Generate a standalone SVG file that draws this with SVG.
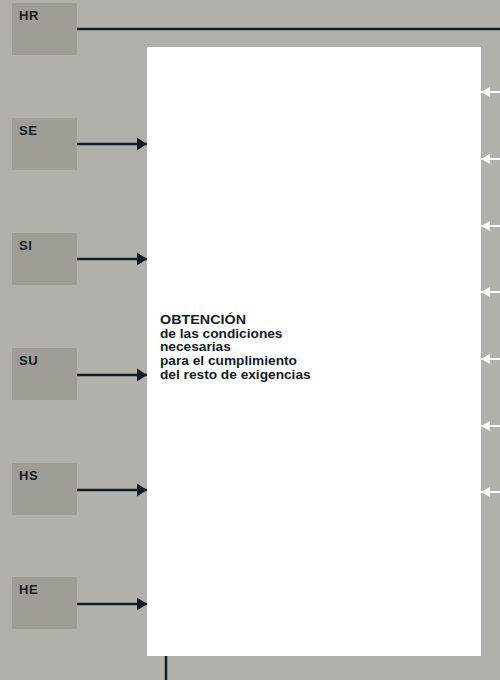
<svg xmlns="http://www.w3.org/2000/svg" width="500" height="680" viewBox="0 0 500 680">
<defs>
<style>
.box{fill:#9f9d95}
.lbl{font-family:"Liberation Sans",Arial,sans-serif;font-weight:bold;font-size:13px;fill:#0f1d29;letter-spacing:0.5px}
.main{font-family:"Liberation Sans",Arial,sans-serif;font-weight:bold;font-size:13.7px;fill:#0f1d29}
.dk{stroke:#0f1d29;stroke-width:2.5;fill:none}
.wt{stroke:#ffffff;stroke-width:2;fill:none}
</style>
<marker id="ad" markerUnits="userSpaceOnUse" markerWidth="10" markerHeight="14" refX="10" refY="7" orient="auto"><path d="M0,0.5 L10,7 L0,13.5 Z" fill="#0f1d29"/></marker>
<marker id="aw" markerUnits="userSpaceOnUse" markerWidth="9" markerHeight="11" refX="9" refY="5.5" orient="auto"><path d="M0,0.5 L9,5.5 L0,10.5 Z" fill="#ffffff"/></marker>
</defs>
<rect x="0" y="0" width="500" height="680" fill="#b1b0ab"/>
<g id="main">
<rect x="147" y="47" width="334" height="609" fill="#ffffff"/>
<text class="main" x="160"><tspan x="160" y="324" textLength="86" lengthAdjust="spacingAndGlyphs">OBTENCIÓN</tspan><tspan x="160" y="337.7">de las condiciones</tspan><tspan x="160" y="351.4">necesarias</tspan><tspan x="160" y="365.1">para el cumplimiento</tspan><tspan x="160" y="378.8">del resto de exigencias</tspan></text>
</g>
<g id="HR"><rect class="box" x="12" y="3" width="65" height="52"/><text class="lbl" x="19" y="20">HR</text></g>
<g id="SE"><rect class="box" x="12" y="118" width="65" height="52"/><text class="lbl" x="19" y="135">SE</text></g>
<g id="SI"><rect class="box" x="12" y="233" width="65" height="52"/><text class="lbl" x="19" y="250">SI</text></g>
<g id="SU"><rect class="box" x="12" y="348" width="65" height="52"/><text class="lbl" x="19" y="365">SU</text></g>
<g id="HS"><rect class="box" x="12" y="463" width="65" height="52"/><text class="lbl" x="19" y="480">HS</text></g>
<g id="HE"><rect class="box" x="12" y="577" width="65" height="52"/><text class="lbl" x="19" y="594">HE</text></g>
<g id="connectors">
<line class="dk" x1="77" y1="29" x2="500" y2="29"/>
<line class="dk" x1="77" y1="144" x2="147" y2="144" marker-end="url(#ad)"/>
<line class="dk" x1="77" y1="259" x2="147" y2="259" marker-end="url(#ad)"/>
<line class="dk" x1="77" y1="375" x2="147" y2="375" marker-end="url(#ad)"/>
<line class="dk" x1="77" y1="490" x2="147" y2="490" marker-end="url(#ad)"/>
<line class="dk" x1="77" y1="604" x2="147" y2="604" marker-end="url(#ad)"/>
<line class="dk" x1="166" y1="656" x2="166" y2="680"/>
<line class="wt" x1="500" y1="92" x2="481" y2="92" marker-end="url(#aw)"/>
<line class="wt" x1="500" y1="159" x2="481" y2="159" marker-end="url(#aw)"/>
<line class="wt" x1="500" y1="226" x2="481" y2="226" marker-end="url(#aw)"/>
<line class="wt" x1="500" y1="292" x2="481" y2="292" marker-end="url(#aw)"/>
<line class="wt" x1="500" y1="359" x2="481" y2="359" marker-end="url(#aw)"/>
<line class="wt" x1="500" y1="426" x2="481" y2="426" marker-end="url(#aw)"/>
<line class="wt" x1="500" y1="492" x2="481" y2="492" marker-end="url(#aw)"/>
</g>
</svg>
